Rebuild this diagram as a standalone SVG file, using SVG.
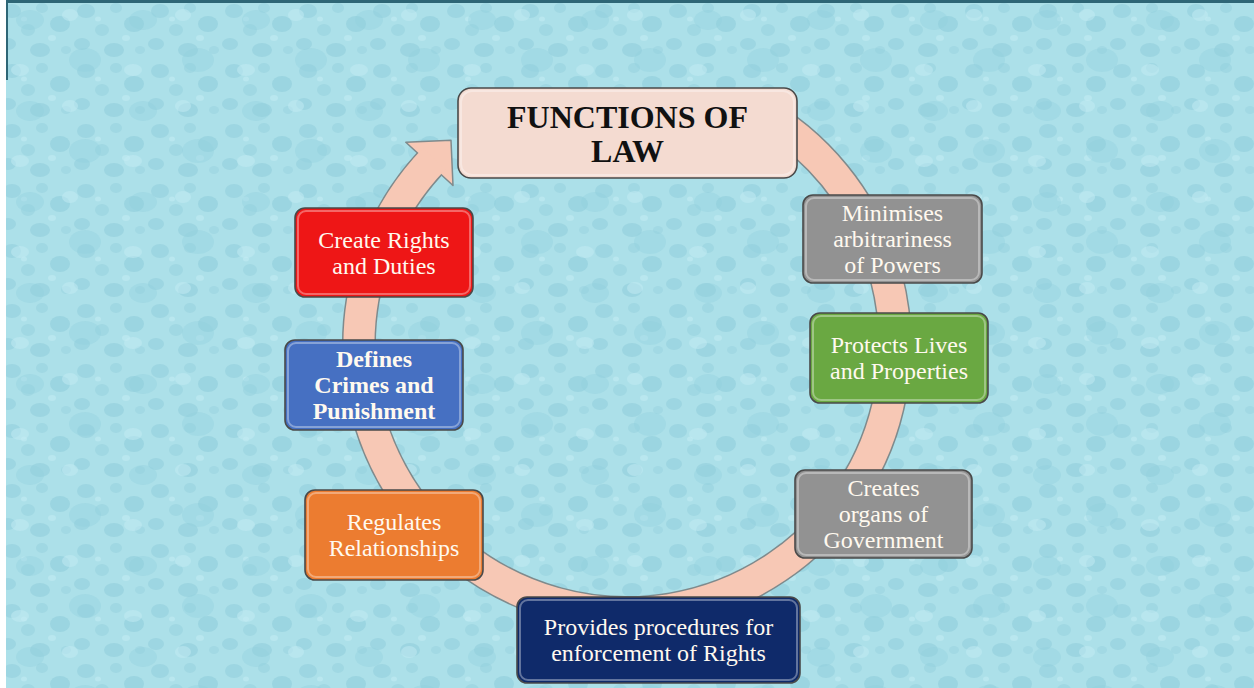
<svg xmlns="http://www.w3.org/2000/svg" width="1254" height="688" viewBox="0 0 1254 688">
<defs>
<pattern id="drops" width="74" height="60" patternUnits="userSpaceOnUse">
<rect width="74" height="60" fill="#ace0e9"/>
<ellipse cx="12" cy="11" rx="9" ry="7" fill="#9dd6e2"/>
<ellipse cx="42" cy="8" rx="6" ry="5" fill="#a0d8e3"/>
<ellipse cx="60" cy="24" rx="10" ry="8" fill="#9bd5e1"/>
<ellipse cx="28" cy="30" rx="7" ry="6" fill="#a0d8e3"/>
<ellipse cx="8" cy="44" rx="8" ry="6" fill="#9dd6e2"/>
<ellipse cx="40" cy="50" rx="10" ry="7" fill="#9cd5e1"/>
<ellipse cx="66" cy="50" rx="5" ry="4" fill="#a2d9e4"/>
<ellipse cx="24" cy="19" rx="3" ry="2.5" fill="#b9e7ef"/>
<ellipse cx="52" cy="38" rx="4" ry="3" fill="#b9e7ef"/>
</pattern>
<pattern id="drops2" width="113" height="91" patternUnits="userSpaceOnUse">
<ellipse cx="30" cy="20" rx="14" ry="10" fill="#8fcedc" fill-opacity="0.35"/>
<ellipse cx="85" cy="60" rx="16" ry="12" fill="#8fcedc" fill-opacity="0.35"/>
<ellipse cx="70" cy="15" rx="8" ry="6" fill="#c4ecf3" fill-opacity="0.5"/>
<ellipse cx="20" cy="70" rx="9" ry="6" fill="#c4ecf3" fill-opacity="0.5"/>
</pattern>
<style>
.box{stroke:#4a4a4a;stroke-width:1.6}
.hl{fill:none;stroke:#ffffff;stroke-opacity:0.35;stroke-width:2}
.t{font-family:"Liberation Serif","Times New Roman",serif;font-size:24px;fill:#fff9ef;text-anchor:middle}
.tb{font-weight:bold}
.title{font-family:"Liberation Serif","Times New Roman",serif;font-size:32px;font-weight:bold;fill:#111111;text-anchor:middle}
</style>
</defs>
<rect x="0" y="0" width="1254" height="688" fill="#ffffff"/>
<rect x="6" y="0" width="1248" height="688" fill="url(#drops)"/>
<rect x="6" y="0" width="1248" height="688" fill="url(#drops2)"/>
<rect x="6" y="0" width="1248" height="3" fill="#2e6676"/>
<rect x="6" y="0" width="2" height="80" fill="#2e6676"/>

<g id="connectors">
<path d="M 752.8,108.4 A 268 268 0 1 1 429.4,163.9" fill="none" stroke="#7f8a8c" stroke-width="34"/>
<polygon points="405.8,142.3 451,140.3 453,185.5" fill="#f7c8b5" stroke="#7f8a8c" stroke-width="1.5" stroke-linejoin="round"/>
<path d="M 752.8,108.4 A 268 268 0 1 1 434.2,158.8" fill="none" stroke="#f7c8b5" stroke-width="31"/>
</g>

<g id="title">
<rect class="box" x="458" y="88" width="339" height="90" rx="13" fill="#f4dbd1"/>
<rect class="hl" x="461" y="91" width="333" height="84" rx="11"/>
<text class="title" x="627.5" y="128">FUNCTIONS OF</text>
<text class="title" x="627.5" y="162">LAW</text>
</g>

<g id="node-create-rights">
<rect class="box" x="295" y="208" width="178" height="89" rx="10" fill="#ee1616"/>
<rect class="hl" x="298" y="211" width="172" height="83" rx="8"/>
<text class="t" x="384" y="247.5">Create Rights</text>
<text class="t" x="384" y="273.5">and Duties</text>
</g>

<g id="node-defines-crimes">
<rect class="box" x="285" y="340" width="178" height="90" rx="10" fill="#4670c2"/>
<rect class="hl" x="288" y="343" width="172" height="84" rx="8"/>
<text class="t tb" x="374" y="367">Defines</text>
<text class="t tb" x="374" y="393">Crimes and</text>
<text class="t tb" x="374" y="419">Punishment</text>
</g>

<g id="node-regulates">
<rect class="box" x="305" y="490" width="178" height="90" rx="10" fill="#ec7c30"/>
<rect class="hl" x="308" y="493" width="172" height="84" rx="8"/>
<text class="t" x="394" y="530">Regulates</text>
<text class="t" x="394" y="556">Relationships</text>
</g>

<g id="node-provides">
<rect class="box" x="517" y="597" width="283" height="86" rx="10" fill="#0f2a6a"/>
<rect class="hl" x="520" y="600" width="277" height="80" rx="8"/>
<text class="t" x="658.5" y="635">Provides procedures for</text>
<text class="t" x="658.5" y="661">enforcement of Rights</text>
</g>

<g id="node-minimises">
<rect class="box" x="803" y="195" width="179" height="88" rx="10" fill="#929292"/>
<rect class="hl" x="806" y="198" width="173" height="82" rx="8"/>
<text class="t" x="892.5" y="221">Minimises</text>
<text class="t" x="892.5" y="247">arbitrariness</text>
<text class="t" x="892.5" y="273">of Powers</text>
</g>

<g id="node-protects">
<rect class="box" x="810" y="313" width="178" height="90" rx="10" fill="#6aa842"/>
<rect class="hl" x="813" y="316" width="172" height="84" rx="8"/>
<text class="t" x="899" y="353">Protects Lives</text>
<text class="t" x="899" y="379">and Properties</text>
</g>

<g id="node-creates-organs">
<rect class="box" x="795" y="470" width="177" height="88" rx="10" fill="#929292"/>
<rect class="hl" x="798" y="473" width="171" height="82" rx="8"/>
<text class="t" x="883.5" y="496">Creates</text>
<text class="t" x="883.5" y="522">organs of</text>
<text class="t" x="883.5" y="548">Government</text>
</g>
</svg>
